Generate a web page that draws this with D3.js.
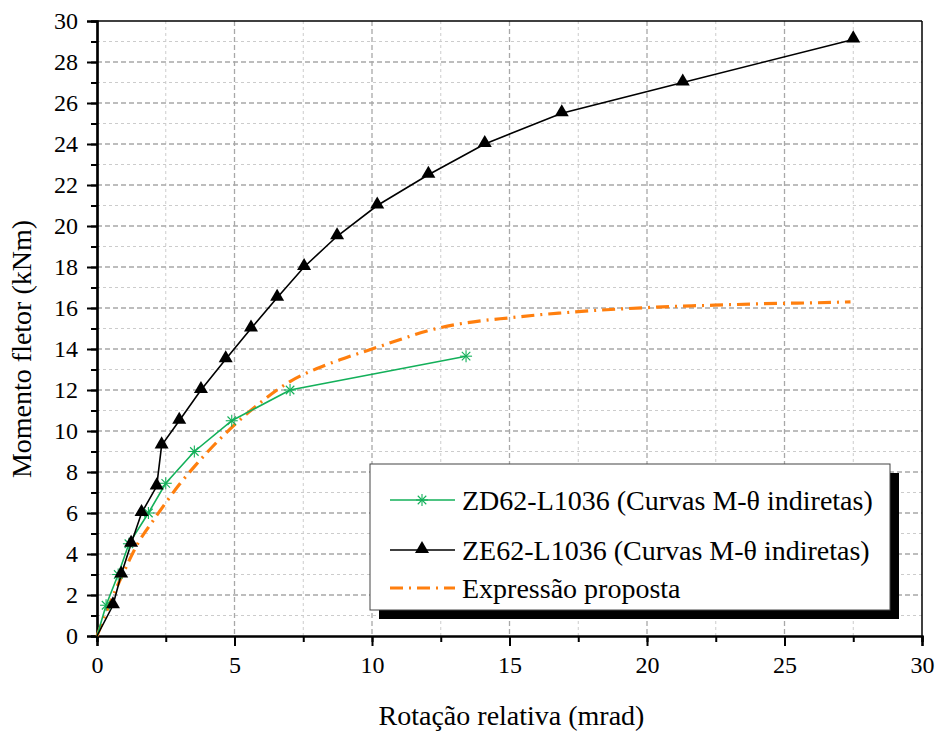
<!DOCTYPE html>
<html>
<head>
<meta charset="utf-8">
<script src="https://cdn.jsdelivr.net/npm/d3@7"></script>
<style>
  html, body { margin: 0; padding: 0; background: #fff; }
  svg { display: block; }
  text { font-family: "Liberation Serif", "Times New Roman", serif; fill: #000; }
</style>
</head>
<body>
<svg id="chart" width="939" height="731"></svg>
<script>
// ---- Data ----
const xTicks = [0, 5, 10, 15, 20, 25, 30];
const yTicks = [0, 2, 4, 6, 8, 10, 12, 14, 16, 18, 20, 22, 24, 26, 28, 30];

const zdTheta = [0, 0.33, 0.77, 1.16, 1.87, 2.5, 3.54, 4.9, 7.02, 13.42];
const zdMoment = [0, 1.5, 3.0, 4.5, 6.0, 7.45, 9.0, 10.5, 12.0, 13.65];

const zeTheta = [0, 0.58, 0.88, 1.24, 1.62, 2.17, 2.35, 2.99, 3.78, 4.68, 5.6, 6.55, 7.53, 8.73, 10.19, 12.05, 14.1, 16.9, 21.3, 27.5];
const zeMoment = [0, 1.5, 3.0, 4.5, 6.0, 7.3, 9.3, 10.5, 12.0, 13.5, 15.0, 16.5, 18.0, 19.5, 21.0, 22.5, 24.0, 25.5, 27.0, 29.1];

const exTheta = [0, 0.5, 1.0, 1.5, 2.0, 2.5, 3.0, 3.5, 4.0, 4.5, 5.0, 5.5, 6.0, 7.0, 8.0, 9.0, 10.0, 11.0, 12.0, 13.0, 14.0, 15.0, 16.0, 17.0, 18.0, 19.0, 20.0, 21.0, 22.0, 23.0, 24.0, 25.0, 26.0, 27.4];
const exMoment = [0, 1.7, 3.2, 4.55, 5.55, 6.5, 7.4, 8.2, 8.95, 9.65, 10.3, 10.9, 11.45, 12.4, 13.05, 13.55, 14.0, 14.45, 14.88, 15.18, 15.38, 15.52, 15.66, 15.77, 15.87, 15.95, 16.02, 16.08, 16.12, 16.16, 16.2, 16.23, 16.25, 16.3];

const seriesNames = ["ZD62-L1036 (Curvas M-θ indiretas)", "ZE62-L1036 (Curvas M-θ indiretas)", "Expressão proposta"];
const xTitle = "Rotação relativa (mrad)";
const yTitle = "Momento fletor (kNm)";

// ---- Layout ----
const svg = d3.select("#chart");
const L = 97, R = 922, T = 21, B = 636;
const x = d3.scaleLinear().domain([0, 30]).range([L, R]);
const y = d3.scaleLinear().domain([0, 30]).range([B, T]);

const GREEN = "#13b05a", ORANGE = "#ff7f0e";

// Grid
const gGrid = svg.append("g");
const xMinor = d3.range(0, 30.01, 2.5);
const yMinor = d3.range(0, 30.01, 1);
xMinor.filter(v => v > 0 && v < 30).forEach(v => {
  const major = v % 5 === 0;
  gGrid.append("line").attr("x1", x(v)).attr("x2", x(v)).attr("y1", T).attr("y2", B)
    .attr("stroke", major ? "#a8a8a8" : "#cccccc").attr("stroke-width", major ? 1.3 : 1)
    .attr("stroke-dasharray", major ? "5,3" : "3,3");
});
yMinor.filter(v => v > 0 && v < 30).forEach(v => {
  const major = v % 2 === 0;
  gGrid.append("line").attr("y1", y(v)).attr("y2", y(v)).attr("x1", L).attr("x2", R)
    .attr("stroke", major ? "#a8a8a8" : "#cccccc").attr("stroke-width", major ? 1.3 : 1)
    .attr("stroke-dasharray", major ? "5,3" : "3,3");
});

// Frame (top/right)
svg.append("line").attr("x1", L).attr("x2", R).attr("y1", T).attr("y2", T).attr("stroke", "#000").attr("stroke-width", 1.5);
svg.append("line").attr("x1", R).attr("x2", R).attr("y1", T).attr("y2", B).attr("stroke", "#000").attr("stroke-width", 1.5);

// Axes
const fontTick = 24;
const xAxisMinor = d3.axisBottom(x).tickValues(xMinor).tickSize(6).tickFormat("");
const yAxisMinor = d3.axisLeft(y).tickValues(yMinor).tickSize(6).tickFormat("");
const xAxis = d3.axisBottom(x).tickValues(xTicks).tickSize(10).tickPadding(10).tickFormat(d3.format("d"));
const yAxis = d3.axisLeft(y).tickValues(yTicks).tickSize(10).tickPadding(9).tickFormat(d3.format("d"));

function styleAxis(g) {
  g.attr("font-family", null);
  g.select(".domain").attr("stroke", "#000").attr("stroke-width", 2.2);
  g.selectAll(".tick line").attr("stroke", "#000").attr("stroke-width", 2);
  g.selectAll(".tick text").style("font-family", "'Liberation Serif', serif").style("font-size", fontTick + "px").attr("fill", "#000");
}
svg.append("g").attr("transform", `translate(0,${B})`).call(xAxisMinor).call(styleAxis);
svg.append("g").attr("transform", `translate(${L},0)`).call(yAxisMinor).call(styleAxis);
svg.append("g").attr("transform", `translate(0,${B})`).call(xAxis).call(styleAxis);
svg.append("g").attr("transform", `translate(${L},0)`).call(yAxis).call(styleAxis);

// Axis titles
svg.append("text").attr("x", (L + R) / 2 + 2).attr("y", 725).attr("text-anchor", "middle")
  .style("font-size", "28px").text(xTitle);
svg.append("text").attr("transform", `translate(31,${349}) rotate(-90)`).attr("text-anchor", "middle")
  .style("font-size", "28px").text(yTitle);

// Lines
const lineGen = d3.line().x(d => x(d[0])).y(d => y(d[1]));
const smoothGen = d3.line().x(d => x(d[0])).y(d => y(d[1])).curve(d3.curveMonotoneX);

const exData = exTheta.map((t, i) => [t, exMoment[i]]);
const zdData = zdTheta.map((t, i) => [t, zdMoment[i]]);
const zeData = zeTheta.map((t, i) => [t, zeMoment[i]]);

svg.append("path").datum(exData).attr("d", smoothGen).attr("fill", "none")
  .attr("stroke", ORANGE).attr("stroke-width", 3.2).attr("stroke-dasharray", "13,6,2,6");

svg.append("path").datum(zdData).attr("d", lineGen).attr("fill", "none")
  .attr("stroke", GREEN).attr("stroke-width", 1.6);
svg.append("path").datum(zeData).attr("d", lineGen).attr("fill", "none")
  .attr("stroke", "#000").attr("stroke-width", 1.6);

function asterisk(g, cx, cy, r) {
  const a = g.append("g").attr("transform", `translate(${cx},${cy})`).attr("stroke", GREEN).attr("stroke-width", 1.1);
  [0, 45, 90, 135].forEach(ang => {
    const rad = ang * Math.PI / 180;
    a.append("line").attr("x1", -r * Math.cos(rad)).attr("y1", -r * Math.sin(rad))
      .attr("x2", r * Math.cos(rad)).attr("y2", r * Math.sin(rad));
  });
}
const tri = d3.symbol().type(d3.symbolTriangle).size(85);

zdData.slice(1).forEach(d => asterisk(svg, x(d[0]), y(d[1]), 6));
svg.selectAll("path.tri").data(zeData.slice(1)).enter().append("path").attr("class", "tri")
  .attr("d", tri).attr("transform", d => `translate(${x(d[0])},${y(d[1]) - 1})`).attr("fill", "#000");

// Legend
const lg = svg.append("g");
lg.append("rect").attr("x", 379).attr("y", 473).attr("width", 520).attr("height", 146).attr("fill", "#000");
lg.append("rect").attr("x", 370).attr("y", 464).attr("width", 520).attr("height", 146).attr("fill", "#fff")
  .attr("stroke", "#444").attr("stroke-width", 1);
const rows = [500, 550, 588];
// row 1
lg.append("line").attr("x1", 390).attr("x2", 455).attr("y1", rows[0]).attr("y2", rows[0]).attr("stroke", GREEN).attr("stroke-width", 1.6);
asterisk(lg, 422, rows[0], 6);
// row 2
lg.append("line").attr("x1", 390).attr("x2", 455).attr("y1", rows[1]).attr("y2", rows[1]).attr("stroke", "#000").attr("stroke-width", 1.6);
lg.append("path").attr("d", tri).attr("transform", `translate(422,${rows[1] - 1})`).attr("fill", "#000");
// row 3
lg.append("line").attr("x1", 390).attr("x2", 455).attr("y1", rows[2]).attr("y2", rows[2]).attr("stroke", ORANGE).attr("stroke-width", 3.2).attr("stroke-dasharray", "13,6,2,6");
seriesNames.forEach((s, i) => {
  lg.append("text").attr("x", 462).attr("y", rows[i]).attr("dy", "0.35em").style("font-size", "28px").text(s);
});
</script>
</body>
</html>
